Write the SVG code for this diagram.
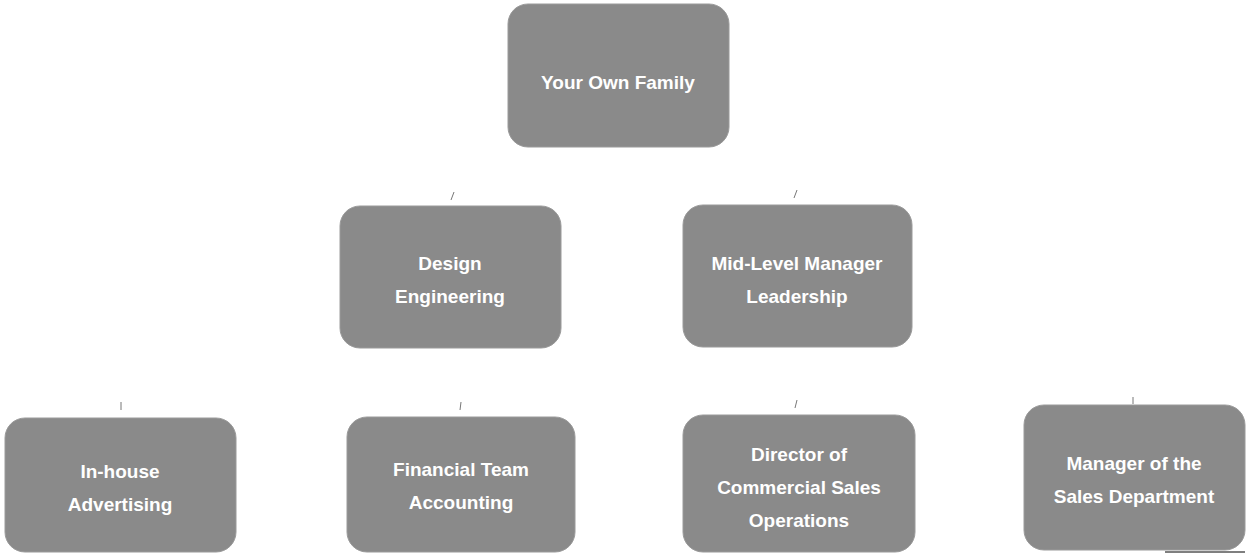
<svg xmlns="http://www.w3.org/2000/svg" width="1247" height="555" viewBox="0 0 1247 555">
<style>
.box{fill:#8a8a8a;stroke:#9a9a9a;stroke-width:1}
.t{font-family:"Liberation Sans",Arial,sans-serif;font-weight:bold;font-size:19px;fill:#ffffff;text-anchor:middle}
.c{stroke:#777777;stroke-width:1;fill:none}
</style>
<rect width="1247" height="555" fill="#ffffff"/>
<g id="connectors">
<line class="c" x1="454" y1="192" x2="451" y2="200"/>
<line class="c" x1="797" y1="190" x2="794" y2="198"/>
<line class="c" x1="121" y1="402" x2="121" y2="410"/>
<line class="c" x1="461" y1="402" x2="460" y2="410"/>
<line class="c" x1="797" y1="400" x2="795" y2="408"/>
<line class="c" x1="1133" y1="397" x2="1133" y2="404"/>
</g>
<g id="node-top">
<rect class="box" x="508" y="4" width="221" height="143" rx="20"/>
<text class="t" x="618" y="89">Your Own Family</text>
</g>
<g id="node-l2a">
<rect class="box" x="340" y="206" width="221" height="142" rx="20"/>
<text class="t" x="450" y="270">Design</text>
<text class="t" x="450" y="303">Engineering</text>
</g>
<g id="node-l2b">
<rect class="box" x="683" y="205" width="229" height="142" rx="20"/>
<text class="t" x="797" y="270">Mid-Level Manager</text>
<text class="t" x="797" y="303">Leadership</text>
</g>
<g id="node-l3a">
<rect class="box" x="5" y="418" width="231" height="134" rx="20"/>
<text class="t" x="120" y="478">In-house</text>
<text class="t" x="120" y="511">Advertising</text>
</g>
<g id="node-l3b">
<rect class="box" x="347" y="417" width="228" height="135" rx="20"/>
<text class="t" x="461" y="476">Financial Team</text>
<text class="t" x="461" y="509">Accounting</text>
</g>
<g id="node-l3c">
<rect class="box" x="683" y="415" width="232" height="137" rx="20"/>
<text class="t" x="799" y="461">Director of</text>
<text class="t" x="799" y="494">Commercial Sales</text>
<text class="t" x="799" y="527">Operations</text>
</g>
<g id="node-l3d">
<rect class="box" x="1024" y="405" width="221" height="145" rx="20"/>
<text class="t" x="1134" y="470">Manager of the</text>
<text class="t" x="1134" y="503">Sales Department</text>
</g>
<line x1="1165" y1="552" x2="1245" y2="552" stroke="#555555" stroke-width="1.5"/>
</svg>
